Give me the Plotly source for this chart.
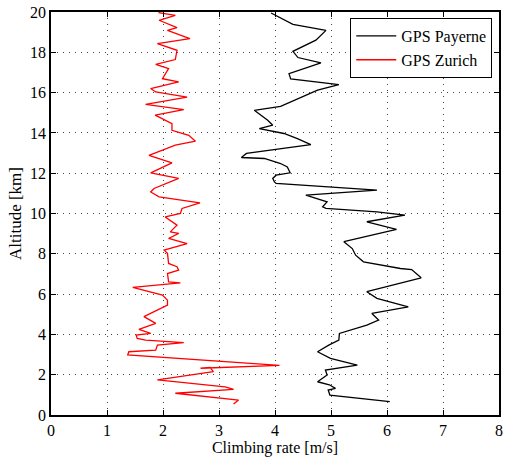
import plotly.graph_objects as go

payerne_rate = [6.05, 4.98, 4.95, 5.08, 4.97, 4.76, 4.93, 4.90, 5.47, 4.99, 4.76, 4.96, 5.14, 5.15,
                5.64, 5.85, 5.73, 6.38, 6.05, 5.82, 5.64, 6.61, 6.44, 6.24, 5.58, 5.44, 5.38, 5.23,
                6.17, 5.64, 6.32, 5.82, 4.91, 4.85, 4.93, 4.55, 5.82, 4.02, 3.99, 3.96, 4.02, 4.27,
                4.22, 4.10, 3.81, 3.40, 3.49, 4.64, 4.40, 4.16, 3.72, 3.96, 3.87, 3.63, 4.10, 4.76,
                5.14, 4.28, 4.25, 4.82, 4.41, 4.32, 4.73, 4.91, 4.32, 4.17, 3.93]
payerne_alt = [0.66, 0.99, 1.24, 1.32, 1.50, 1.65, 1.98, 2.23, 2.48, 2.81, 3.14, 3.47, 3.72, 4.05,
               4.46, 4.71, 5.04, 5.37, 5.62, 5.79, 6.12, 6.81, 7.22, 7.27, 7.60, 7.93, 8.26, 8.60,
               9.21, 9.59, 9.92, 10.08, 10.25, 10.33, 10.58, 10.91, 11.16, 11.49, 11.57, 11.74, 11.90, 12.02,
               12.31, 12.48, 12.73, 12.78, 12.98, 13.42, 13.72, 13.97, 14.21, 14.38, 14.63, 15.12, 15.32, 16.12,
               16.40, 16.68, 16.94, 17.47, 17.74, 18.05, 18.60, 19.09, 19.39, 19.59, 19.95]

zurich_rate = [3.26, 3.35, 2.22, 3.26, 3.11, 1.90, 2.90, 2.84, 2.67, 4.08, 1.37, 1.39, 1.87, 1.90,
               2.37, 1.69, 1.54, 1.52, 1.78, 1.57, 1.87, 1.66, 2.08, 2.08, 1.99, 1.46, 2.31, 2.10,
               2.08, 2.28, 2.25, 2.10, 2.08, 2.02, 2.43, 2.10, 2.28, 2.13, 2.25, 2.04, 2.31, 2.34,
               2.66, 1.93, 1.78, 1.84, 2.28, 1.78, 2.16, 1.75, 2.22, 2.58, 2.46, 2.16, 2.16, 1.86,
               2.37, 1.69, 2.43, 1.87, 1.78, 2.28, 1.99, 2.10, 1.87, 2.22, 2.25, 1.90, 2.48, 2.08,
               2.25, 1.93, 2.22, 1.92]
zurich_alt = [0.55, 0.74, 1.08, 1.27, 1.40, 1.74, 2.15, 2.36, 2.32, 2.46, 2.98, 3.14, 3.22, 3.47,
              3.59, 3.72, 3.80, 3.97, 4.05, 4.25, 4.55, 4.88, 5.45, 5.70, 5.95, 6.33, 6.56, 6.61,
              7.02, 7.19, 7.36, 7.52, 8.02, 8.18, 8.51, 8.76, 9.01, 9.09, 9.42, 9.83, 10.00, 10.25,
              10.53, 10.83, 11.07, 11.24, 11.74, 12.02, 12.51, 12.89, 13.39, 13.59, 13.88, 14.13, 14.46, 14.88,
              15.16, 15.42, 15.78, 16.03, 16.20, 16.53, 16.69, 17.19, 17.40, 17.64, 18.10, 18.43, 18.68, 19.09,
              19.22, 19.59, 19.83, 19.97]

x_ticks = [0, 1, 2, 3, 4, 5, 6, 7, 8]
y_ticks = [0, 2, 4, 6, 8, 10, 12, 14, 16, 18, 20]

font = "Liberation Serif"

fig = go.Figure()
fig.add_trace(go.Scatter(x=payerne_rate, y=payerne_alt, mode="lines", name="GPS Payerne",
                         line=dict(color="black", width=1.3)))
fig.add_trace(go.Scatter(x=zurich_rate, y=zurich_alt, mode="lines", name="GPS Zurich",
                         line=dict(color="red", width=1.3)))

axis_common = dict(showline=True, linecolor="black", linewidth=1.5, mirror="ticks",
                   ticks="inside", ticklen=5, tickcolor="black",
                   showgrid=True, gridcolor="#444444", griddash="1px,5px", gridwidth=1,
                   zeroline=False,
                   tickfont=dict(family=font, size=16, color="black"))

fig.update_xaxes(range=[0, 8], tickvals=x_ticks, ticktext=[str(v) for v in x_ticks],
                 title=dict(text="Climbing rate [m/s]",
                            font=dict(family=font, size=16, color="black"), standoff=3),
                 **axis_common)
fig.update_yaxes(range=[0, 20], tickvals=y_ticks, ticktext=[str(v) for v in y_ticks],
                 title=dict(text="Altitude [km]",
                            font=dict(family=font, size=17, color="black"), standoff=4),
                 **axis_common)

fig.update_layout(
    width=507, height=457,
    margin=dict(l=51, r=4, t=12, b=42),
    paper_bgcolor="white", plot_bgcolor="white",
    font=dict(family=font, size=16, color="black"),
    showlegend=True,
    legend=dict(x=0.985, y=0.985, xanchor="right", yanchor="top",
                bgcolor="white", bordercolor="black", borderwidth=1,
                font=dict(family=font, size=16, color="black"),
                tracegroupgap=0, itemwidth=40),
)

fig.write_html("out.html")
